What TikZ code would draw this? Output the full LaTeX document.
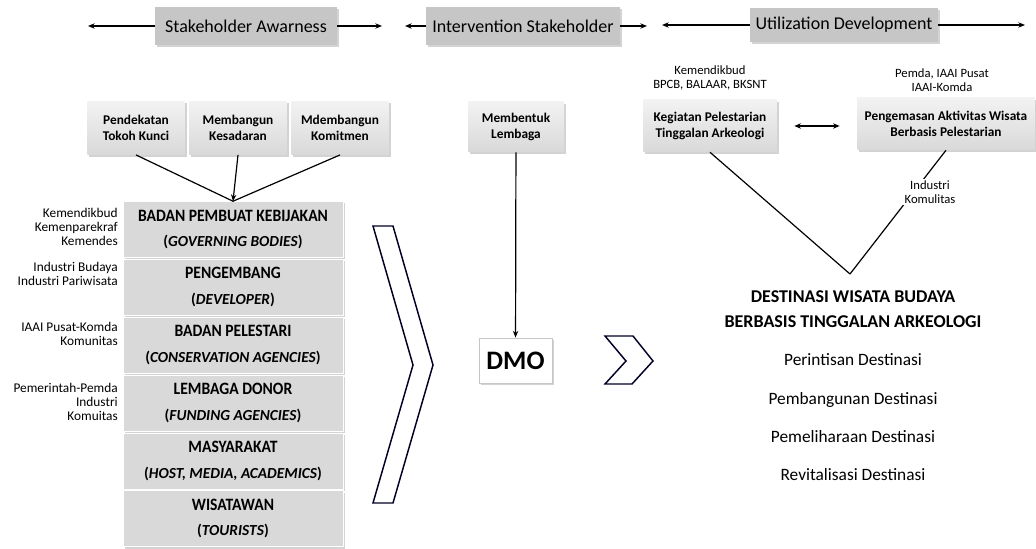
\documentclass[tikz,border=0pt]{standalone}
\usepackage{fontspec}
\setmainfont{Carlito}
\newfontfamily\narrowfont[FakeStretch=0.9]{Carlito}
\usetikzlibrary{positioning,shadows,arrows.meta}

\newcommand\stk[2]{{\narrowfont\fontsize{13}{19.5}\selectfont #1}\\{\fontsize{11.5}{19.5}\selectfont #2}}

\tikzset{
    shd/.style={drop shadow={shadow xshift=1.5pt,shadow yshift=-1.5pt,opacity=0.35}},
    head/.style={shd,fill=gray!45,minimum height=28pt,inner sep=0pt,font=\fontsize{13.5}{15}\selectfont},
    smallbox/.style={shd,top color=gray!10,bottom color=gray!30,minimum width=73pt,minimum height=40pt,inner sep=1pt,align=center,font=\fontsize{10}{12}\selectfont\bfseries},
    stack/.style={shd,fill=gray!30,draw=white,minimum width=165pt,minimum height=42pt,inner sep=0pt,align=center,font=\fontsize{12}{19}\selectfont\bfseries},
    side/.style={anchor=east,align=right,inner sep=0pt,font=\fontsize{10}{10.5}\selectfont},
    lab/.style={align=center,inner sep=1pt,font=\fontsize{9.5}{10.5}\selectfont},
    dest/.style={font=\fontsize{13}{15}\selectfont},
    chev/.style={draw=black!85!blue,line width=1.1pt,line join=miter},
    arr/.style={-{Stealth[length=5pt,width=4pt]},line width=0.9pt},
}

\begin{document}
\begin{tikzpicture}[x=0.75pt,y=-0.75pt]
    \useasboundingbox (0,0) rectangle (1036,549);

    % header row
    \node[head,minimum width=136.5pt] (sa) at (246,26) {Stakeholder Awarness};
    \node[head,minimum width=145pt] (is) at (523,26) {Intervention Stakeholder};
    \node[head,minimum width=141pt,minimum height=25pt] (ud) at (844,25) {Utilization Development};
    \coordinate (sa1) at (88,26);
    \coordinate (sa2) at (382,26);
    \coordinate (is1) at (405,26);
    \coordinate (is2) at (647,26);
    \coordinate (ud1) at (662,25);
    \coordinate (ud2) at (1025,25);
    \draw [arr] (sa) -- (sa1);
    \draw [arr] (sa) -- (sa2);
    \draw [arr] (is) -- (is1);
    \draw [arr] (is) -- (is2);
    \draw [arr] (ud) -- (ud1);
    \draw [arr] (ud) -- (ud2);

    % stakeholder awarness
    \node[smallbox] (pk) at (136,128) {Pendekatan\\Tokoh Kunci};
    \node[smallbox] (mk) at (238,128) {Membangun\\Kesadaran};
    \node[smallbox] (mko) at (340,128) {Mdembangun\\Komitmen};

    \node[stack] (bp) at (233,229.5) {\stk{BADAN PEMBUAT KEBIJAKAN}{(\textit{GOVERNING BODIES})}};
    \node[stack] (pg) at (233,287) {\stk{PENGEMBANG}{(\textit{DEVELOPER})}};
    \node[stack] (bl) at (233,345) {\stk{BADAN PELESTARI}{(\textit{CONSERVATION AGENCIES})}};
    \node[stack] (ld) at (233,403) {\stk{LEMBAGA DONOR}{(\textit{FUNDING AGENCIES})}};
    \node[stack] (ms) at (233,461) {\stk{MASYARAKAT}{(\textit{HOST, MEDIA, ACADEMICS})}};
    \node[stack] (ws) at (233,518.5) {\stk{WISATAWAN}{(\textit{TOURISTS})}};

    \coordinate (cv) at (bp.north);
    \draw [line width=0.9pt] (pk.south) -- (cv);
    \draw [arr] (mk.south) -- (cv);
    \draw [line width=0.9pt] (mko.south) -- (cv);

    \node[side] (s1) at (118,227) {Kemendikbud\\Kemenparekraf\\Kemendes};
    \node[side] (s2) at (118,274) {Industri Budaya\\Industri Pariwisata};
    \node[side] (s3) at (118,334) {IAAI Pusat-Komda\\Komunitas};
    \node[side] (s4) at (118,402) {Pemerintah-Pemda\\Industri\\Komuitas};

    \draw [chev] (373,226) -- (393,226) -- (433,365) -- (393,503) -- (373,503) -- (413,365) -- cycle;

    % intervention
    \node[smallbox,minimum width=72pt,minimum height=37.5pt] (ml) at (516,127) {Membentuk\\Lembaga};
    \node[shd,draw=gray!45,fill=white,minimum width=55pt,minimum height=34pt,inner sep=0pt,font=\fontsize{20}{22}\selectfont\bfseries] (dmo) at (515.5,360.5) {DMO};
    \draw [arr] (ml) -- (dmo);

    \draw [chev] (605,336) -- (633,336) -- (653,361) -- (632,384) -- (605,384) -- (626,361) -- cycle;

    % utilization
    \node[smallbox,minimum width=100pt,minimum height=39pt] (kg) at (710,126) {Kegiatan Pelestarian\\Tinggalan Arkeologi};
    \node[smallbox,minimum width=133pt,minimum height=39pt] (pa) at (946,124) {Pengemasan Aktivitas Wisata\\Berbasis Pelestarian};
    \node[lab] (l1) at (710,78) {Kemendikbud\\BPCB, BALAAR, BKSNT};
    \node[lab] (l2) at (942,80) {Pemda, IAAI Pusat\\IAAI-Komda};
    \draw [{Stealth[length=5pt,width=4pt]}-{Stealth[length=5pt,width=4pt]},line width=0.9pt,shorten <=13pt,shorten >=13pt] (kg.east) -- (kg.east -| pa.west);

    \coordinate (v) at (850,274);
    \draw [line width=0.9pt] (kg.south) -- (v);
    \draw [line width=0.9pt] (pa.south) -- (v);
    \node[lab,fill=white] (ik) at (930,192) {Industri\\Komulitas};

    \node[align=center,font=\fontsize{13.5}{18.75}\selectfont\bfseries] (dw) at (853,309.5) {DESTINASI WISATA BUDAYA\\BERBASIS TINGGALAN ARKEOLOGI};
    \node[dest] (d1) at (853,360) {Perintisan Destinasi};
    \node[dest] (d2) at (853,400) {Pembangunan Destinasi};
    \node[dest] (d3) at (853,437) {Pemeliharaan Destinasi};
    \node[dest] (d4) at (853,475) {Revitalisasi Destinasi};
\end{tikzpicture}
\end{document}
